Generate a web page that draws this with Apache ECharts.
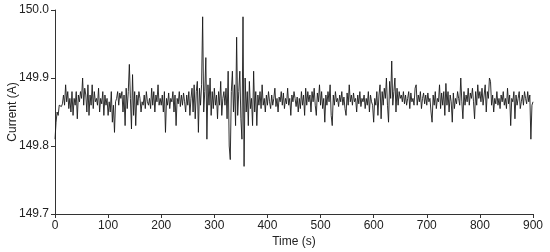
<!DOCTYPE html>
<html><head><meta charset="utf-8">
<script src="https://cdn.jsdelivr.net/npm/echarts@6/dist/echarts.min.js"></script>
<style>html,body{margin:0;padding:0;background:#fff}#c{width:550px;height:252px}</style>
</head><body><div id="c"></div>
<script>
const sampleStart = 0;
const sampleStep = 2;
const current = [
149.810,149.835,149.850,149.845,149.860,149.860,149.858,149.862,149.875,149.860,
149.890,149.865,149.880,149.855,149.870,149.850,149.880,149.845,149.870,149.860,
149.880,149.840,149.875,149.865,149.880,149.870,149.900,149.860,149.885,149.875,
149.850,149.890,149.845,149.875,149.860,149.890,149.855,149.880,149.865,149.870,
149.860,149.885,149.850,149.870,149.862,149.880,149.845,149.875,149.860,149.870,
149.845,149.865,149.850,149.880,149.835,149.860,149.820,149.865,149.870,149.880,
149.860,149.878,149.870,149.880,149.850,149.875,149.830,149.885,149.855,149.880,
149.920,149.870,149.825,149.905,149.845,149.880,149.830,149.875,149.860,149.880,
149.870,149.850,149.865,149.860,149.875,149.855,149.880,149.865,149.860,149.870,
149.855,149.885,149.860,149.880,149.850,149.875,149.865,149.890,149.860,149.870,
149.860,149.875,149.850,149.880,149.820,149.870,149.860,149.878,149.855,149.870,
149.865,149.880,149.850,149.875,149.830,149.870,149.862,149.880,149.858,149.875,
149.860,149.878,149.865,149.850,149.875,149.860,149.880,149.845,149.870,149.885,
149.850,149.890,149.840,149.880,149.895,149.820,149.885,149.860,149.890,149.990,
149.850,149.880,149.930,149.810,149.890,149.860,149.900,149.845,149.880,149.855,
149.885,149.860,149.875,149.840,149.880,149.860,149.895,149.845,149.870,149.880,
149.860,149.885,149.840,149.910,149.800,149.780,149.880,149.910,149.850,149.890,
149.830,149.960,149.845,149.880,149.910,149.840,149.810,149.990,149.770,149.900,
149.850,149.880,149.830,149.895,149.855,149.870,149.830,149.910,149.850,149.880,
149.830,149.875,149.860,149.880,149.855,149.890,149.860,149.870,149.850,149.875,
149.860,149.880,149.865,149.855,149.875,149.860,149.870,149.885,149.858,149.870,
149.850,149.872,149.865,149.880,149.860,149.878,149.855,149.870,149.862,149.885,
149.860,149.870,149.845,149.875,149.865,149.880,149.870,149.858,149.872,149.850,
149.870,149.855,149.880,149.860,149.875,149.845,149.885,149.860,149.880,149.865,
149.875,149.850,149.880,149.865,149.885,149.860,149.845,149.878,149.865,149.890,
149.860,149.880,149.855,149.870,149.835,149.875,149.860,149.880,149.865,149.890,
149.845,149.830,149.875,149.860,149.880,149.865,149.870,149.858,149.875,149.865,
149.880,149.860,149.872,149.855,149.845,149.878,149.860,149.890,149.865,149.875,
149.860,149.878,149.865,149.870,149.850,149.875,149.862,149.880,149.858,149.870,
149.865,149.875,149.855,149.870,149.860,149.880,149.850,149.875,149.865,149.860,
149.835,149.870,149.860,149.880,149.845,149.875,149.890,149.840,149.880,149.860,
149.885,149.870,149.900,149.860,149.835,149.895,149.870,149.925,149.860,149.880,
149.900,149.850,149.885,149.860,149.880,149.870,149.875,149.865,149.880,149.862,
149.875,149.860,149.870,149.880,149.855,149.878,149.865,149.870,149.860,149.885,
149.890,149.860,149.875,149.865,149.880,149.855,149.870,149.878,149.862,149.875,
149.860,149.878,149.865,149.870,149.850,149.835,149.875,149.860,149.880,149.855,
149.870,149.865,149.890,149.855,149.878,149.860,149.880,149.845,149.892,149.860,
149.880,149.850,149.875,149.865,149.835,149.878,149.855,149.870,149.862,149.880,
149.870,149.860,149.900,149.865,149.840,149.880,149.860,149.875,149.865,149.885,
149.860,149.878,149.870,149.885,149.865,149.840,149.880,149.860,149.890,149.870,
149.880,149.865,149.885,149.860,149.875,149.890,149.850,149.880,149.870,149.900,
149.895,149.860,149.875,149.850,149.870,149.862,149.880,149.860,149.870,149.855,
149.875,149.865,149.880,149.860,149.870,149.855,149.885,149.862,149.875,149.830,
149.870,149.865,149.880,149.840,149.875,149.860,149.870,149.880,149.855,149.865,
149.875,149.860,149.880,149.870,149.862,149.880,149.865,149.875,149.810,149.860,
149.865
];
const xTicks = [0,100,200,300,400,500,600,700,800,900];
const yTicks = [149.7,149.8,149.9,150.0];

const data = current.map((v,i)=>[sampleStart + i*sampleStep, v]);
const font = 'Liberation Sans, Arial, sans-serif';
const axisCol = '#333';
const chart = echarts.init(document.getElementById('c'), null, {renderer:'canvas'});
chart.setOption({
  animation:false,
  backgroundColor:'#fff',
  grid:{left:55,right:17,top:10,bottom:38,containLabel:false,outerBoundsMode:'none'},
  xAxis:{
    type:'value',min:xTicks[0],max:xTicks[xTicks.length-1],interval:100,
    name:'Time (s)',nameLocation:'middle',nameGap:22,nameMoveOverlap:false,
    nameTextStyle:{fontFamily:font,fontSize:12,color:'#222'},
    axisLine:{lineStyle:{color:axisCol,width:1}},
    axisTick:{show:true,inside:false,length:4,lineStyle:{color:axisCol}},
    axisLabel:{fontFamily:font,fontSize:12,color:'#222',margin:6},
    splitLine:{show:false}
  },
  yAxis:{
    type:'value',min:yTicks[0],max:yTicks[yTicks.length-1],interval:0.1,
    name:'Current (A)',nameLocation:'middle',nameGap:36,nameMoveOverlap:false,
    nameTextStyle:{fontFamily:font,fontSize:12,color:'#222'},
    axisLine:{show:true,lineStyle:{color:axisCol,width:1}},
    axisTick:{show:true,inside:false,length:4,lineStyle:{color:axisCol}},
    axisLabel:{fontFamily:font,fontSize:12,color:'#222',margin:6,formatter:v=>v.toFixed(1)},
    splitLine:{show:false}
  },
  series:[{
    type:'line',data:data,showSymbol:false,symbol:'none',
    lineStyle:{color:'#1a1a1a',width:0.9},
    clip:true
  }]
});
</script></body></html>
